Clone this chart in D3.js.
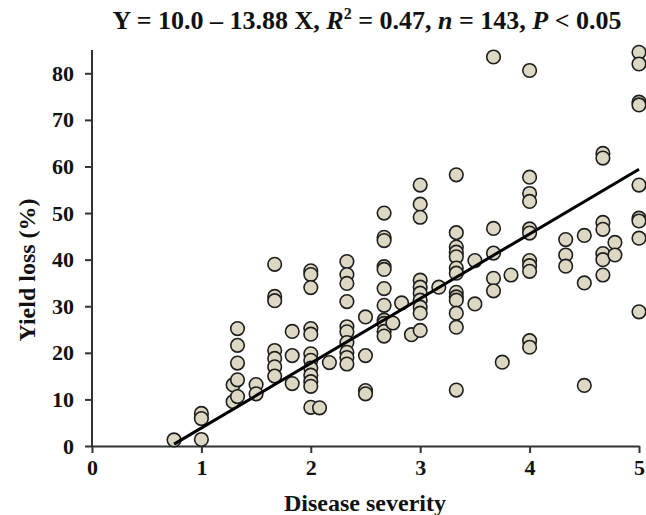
<!DOCTYPE html>
<html lang="en">
<head>
<meta charset="UTF-8">
<title>Yield loss vs disease severity</title>
<script src="https://d3js.org/d3.v7.min.js"></script>
<style>
    body { margin: 0; background: #fff; }
    svg text { font-family: "Liberation Serif", "Times New Roman", serif; font-weight: bold; fill: #111; }
</style>
</head>
<body>
<svg id="chart" width="646" height="515"></svg>
<script>
// disease severity levels and the yield loss values observed at each
const severity = [0.75, 1, 1.29, 1.33, 1.5, 1.67, 1.83, 2, 2.08, 2.17, 2.33, 2.5, 2.67, 2.75, 2.83, 2.92,
    3, 3.17, 3.33, 3.5, 3.67, 3.75, 3.83, 4, 4.33, 4.5, 4.67, 4.78, 5];
const yieldLoss = [
    [1.3],
    [7.0, 5.9, 1.4],
    [13.1, 9.5],
    [25.2, 21.6, 17.8, 14.2, 10.6],
    [13.2, 11.2],
    [39.0, 32.1, 31.2, 20.5, 18.8, 17.0, 15.0],
    [24.6, 19.4, 13.4],
    [37.6, 36.8, 34.0, 25.2, 24.0, 19.8, 18.4, 16.7, 15.2, 13.8, 12.8, 8.3],
    [8.2],
    [17.9],
    [39.6, 36.8, 34.9, 31.0, 25.6, 24.5, 22.2, 20.1, 19.0, 17.6],
    [27.7, 19.4, 11.9, 11.2],
    [50.0, 44.8, 44.1, 38.5, 37.9, 33.8, 30.2, 27.0, 26.3, 24.6, 23.6],
    [26.4],
    [30.7],
    [23.9],
    [56.0, 51.9, 49.1, 35.6, 34.1, 32.8, 31.3, 29.8, 28.5, 24.8],
    [34.1],
    [58.2, 45.8, 42.7, 41.6, 40.6, 38.2, 37.1, 33.0, 32.0, 31.3, 28.5, 25.5, 12.0],
    [39.8, 30.5],
    [83.5, 46.7, 41.4, 36.0, 33.3],
    [18.0],
    [36.7],
    [80.6, 57.7, 54.2, 52.5, 46.6, 45.7, 39.8, 38.7, 37.5, 22.6, 21.2],
    [44.3, 41.0, 38.6],
    [45.2, 35.0, 13.0],
    [62.8, 61.8, 48.0, 46.5, 41.3, 40.0, 36.7],
    [43.7, 41.0],
    [84.5, 82.0, 73.8, 73.2, 56.0, 48.9, 48.3, 44.6, 28.8]
];
const xTicks = [0, 1, 2, 3, 4, 5];
const yTicks = [0, 10, 20, 30, 40, 50, 60, 70, 80];
// fitted line: yield loss = -10.0 + 13.88 * severity
const fitIntercept = -10.0;
const fitSlope = 13.88;
const fitRange = [0.75, 5];

const points = severity.flatMap((s, i) => yieldLoss[i].map(v => ({ x: s, y: v })));

const svg = d3.select("#chart");
const x = d3.scaleLinear().domain([0, 5]).range([92, 639]);
const y = d3.scaleLinear().domain([0, 85]).range([446, 50]);

// axes
const xAxis = svg.append("g")
    .attr("transform", `translate(0,${y(0)})`)
    .call(d3.axisBottom(x).tickValues(xTicks).tickFormat(d3.format("d"))
        .tickSizeInner(7).tickSizeOuter(0).tickPadding(6));
const yAxis = svg.append("g")
    .attr("transform", `translate(${x(0)},0)`)
    .call(d3.axisLeft(y).tickValues(yTicks).tickFormat(d3.format("d"))
        .tickSizeInner(7).tickSizeOuter(0).tickPadding(11));

yAxis.select(".domain").attr("d", `M0,${y(85)}V${y(0)}`);
[xAxis, yAxis].forEach(a => {
    a.selectAll(".domain").attr("stroke", "#333").attr("stroke-width", 2);
    a.selectAll(".tick line").attr("stroke", "#333").attr("stroke-width", 2);
    a.selectAll(".tick text").attr("font-size", 22).attr("fill", "#111");
});

// points
svg.append("g")
    .selectAll("circle")
    .data(points)
    .join("circle")
    .attr("cx", d => x(d.x))
    .attr("cy", d => y(d.y))
    .attr("r", 6.8)
    .attr("fill", "#dcd8c3")
    .attr("stroke", "#1e1e1e")
    .attr("stroke-width", 1.6);

// regression line
svg.append("line")
    .attr("x1", x(fitRange[0]))
    .attr("y1", y(fitIntercept + fitSlope * fitRange[0]))
    .attr("x2", x(fitRange[1]))
    .attr("y2", y(fitIntercept + fitSlope * fitRange[1]))
    .attr("stroke", "#000")
    .attr("stroke-width", 3);

// title
const title = svg.append("text")
    .attr("x", 367)
    .attr("y", 29)
    .attr("text-anchor", "middle")
    .attr("font-size", 26);
title.append("tspan").text("Y = 10.0 – 13.88 X, ");
title.append("tspan").attr("font-style", "italic").text("R");
title.append("tspan").attr("font-size", 16).attr("dy", -10).text("2");
title.append("tspan").attr("dy", 10).text(" = 0.47, ");
title.append("tspan").attr("font-style", "italic").text("n");
title.append("tspan").text(" = 143, ");
title.append("tspan").attr("font-style", "italic").text("P");
title.append("tspan").text(" < 0.05");

// axis titles
svg.append("text")
    .attr("x", 365)
    .attr("y", 511)
    .attr("text-anchor", "middle")
    .attr("font-size", 24)
    .text("Disease severity");
svg.append("text")
    .attr("transform", "translate(35,270) rotate(-90)")
    .attr("text-anchor", "middle")
    .attr("font-size", 24)
    .text("Yield loss (%)");
</script>
</body>
</html>
